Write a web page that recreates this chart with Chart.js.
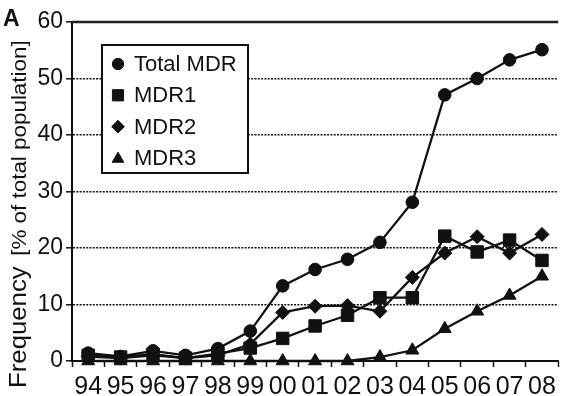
<!DOCTYPE html>
<html lang="en">
<head>
  <meta charset="UTF-8">
  <title>MDR frequency</title>
  <script src="https://cdn.jsdelivr.net/npm/chart.js"></script>
  <style>
    body, html {
      width: 568px;
      height: 396px;
      margin: 0;
      padding: 0;
      overflow: hidden;
      background: #fff;
    }
    #wrap {
      position: relative;
      width: 568px;
      height: 396px;
    }
  </style>
</head>
<body>
  <div id="wrap"><canvas id="mdrChart"></canvas></div>

  <script>
    // data
    const years = ['94', '95', '96', '97', '98', '99', '00', '01', '02', '03', '04', '05', '06', '07', '08'];
    const totalMdr = [1.4, 0.8, 1.8, 1.0, 2.2, 5.3, 13.3, 16.2, 18.0, 21.0, 28.1, 47.1, 50.0, 53.3, 55.1];
    const mdr1 = [1.0, 0.7, 1.2, 0.5, 1.3, 2.3, 4.0, 6.2, 8.1, 11.2, 11.2, 22.1, 19.3, 21.4, 17.8];
    const mdr2 = [0.8, 0.5, 1.0, 0.5, 1.0, 3.0, 8.6, 9.7, 9.8, 8.8, 14.8, 19.1, 22.0, 19.1, 22.4];
    const mdr3 = [0, 0, 0, 0, 0, 0, 0, 0, 0, 0.7, 1.9, 5.7, 8.8, 11.6, 15.0];
    const seriesNames = ['Total MDR', 'MDR1', 'MDR2', 'MDR3'];
    const yTicks = [0, 10, 20, 30, 40, 50, 60];
    const titleMain = 'Frequency';
    const titleUnit = '[% of total population]';
    const panelLabel = 'A';

    const ink = '#111';
    const sans = '"Liberation Sans", Arial, Helvetica, sans-serif';
    const narrow = '"Liberation Sans Narrow", "Arial Narrow", "Liberation Sans", Arial, sans-serif';

    const styles = [
      { pointStyle: 'circle', radius: 6.3 },
      { pointStyle: 'rect', radius: 8.8 },
      { pointStyle: 'rectRot', radius: 7 },
      { pointStyle: 'triangle', radius: 7.5 }
    ];

    function makeSet(i, data) {
      return {
        label: seriesNames[i],
        data: data,
        borderColor: ink,
        backgroundColor: ink,
        borderWidth: 2.3,
        tension: 0,
        pointStyle: styles[i].pointStyle,
        pointRadius: styles[i].radius,
        pointBorderWidth: 1,
        pointBackgroundColor: ink,
        pointBorderColor: ink,
        clip: false
      };
    }

    // panel letter and axis title with two font sizes, rotated
    const yTitlePlugin = {
      id: 'yTitle',
      afterDraw(chart) {
        const ctx = chart.ctx;
        ctx.save();
        ctx.fillStyle = ink;
        ctx.font = 'bold 23px ' + sans;
        ctx.textAlign = 'left';
        ctx.textBaseline = 'alphabetic';
        ctx.fillText(panelLabel, 3, 26);

        ctx.translate(26, 388);
        ctx.rotate(-Math.PI / 2);
        ctx.scale(1.12, 1);
        ctx.font = '23px ' + sans;
        ctx.fillText(titleMain, 0, 0);
        const w = ctx.measureText(titleMain + ' ').width + 3;
        ctx.font = '20px ' + sans;
        ctx.fillText(titleUnit, w, 0);
        ctx.restore();
      }
    };

    // top frame line + boxed legend inside the plot
    const framePlugin = {
      id: 'frame',
      afterDraw(chart) {
        const ctx = chart.ctx;
        const a = chart.chartArea;
        ctx.save();
        ctx.strokeStyle = '#222';
        ctx.lineWidth = 2.5;
        ctx.beginPath();
        ctx.moveTo(a.left, a.top);
        ctx.lineTo(a.right, a.top);
        ctx.stroke();

        const bx = 102, by = 45, bw = 146, bh = 128;
        ctx.fillStyle = '#fff';
        ctx.fillRect(bx, by, bw, bh);
        ctx.lineWidth = 2;
        ctx.strokeStyle = ink;
        ctx.strokeRect(bx, by, bw, bh);

        ctx.font = '22px ' + sans;
        ctx.textAlign = 'left';
        ctx.textBaseline = 'middle';
        seriesNames.forEach((name, i) => {
          const y = 64 + i * 31.3;
          ctx.fillStyle = ink;
          ctx.strokeStyle = ink;
          ctx.lineWidth = 1;
          Chart.helpers.drawPoint(ctx, {
            pointStyle: styles[i].pointStyle,
            radius: styles[i].radius * 0.9,
            rotation: 0,
            borderWidth: 1
          }, 118, y + (i === 3 ? 1 : 0));
          ctx.fillStyle = ink;
          ctx.fillText(name, 134, y + 1);
        });
        ctx.restore();
      }
    };

    const ctx = document.getElementById('mdrChart').getContext('2d');
    new Chart(ctx, {
      type: 'line',
      data: {
        labels: years,
        datasets: [
          makeSet(0, totalMdr),
          makeSet(1, mdr1),
          makeSet(2, mdr2),
          makeSet(3, mdr3)
        ]
      },
      options: {
        responsive: true,
        maintainAspectRatio: false,
        animation: false,
        layout: { padding: { top: 22, left: 0, right: 0, bottom: 0 } },
        plugins: {
          legend: { display: false },
          tooltip: { enabled: false }
        },
        scales: {
          x: {
            type: 'category',
            offset: true,
            afterFit: (s) => { s.height = 35; },
            grid: {
              offset: true,
              drawOnChartArea: false,
              drawTicks: true,
              tickLength: 6,
              tickColor: ink,
              tickWidth: 1.5
            },
            border: { display: true, color: ink, width: 2 },
            ticks: {
              color: ink,
              padding: 5,
              maxRotation: 0,
              autoSkip: false,
              font: { family: narrow, size: 25 }
            }
          },
          y: {
            min: 0,
            max: 60,
            afterFit: (s) => { s.width = 72; },
            afterBuildTicks: (s) => { s.ticks = yTicks.map(v => ({ value: v })); },
            grid: {
              color: (c) => (c.tick && (c.tick.value === 0 || c.tick.value === 60)) ? 'rgba(0,0,0,0)' : '#111',
              lineWidth: 1.6,
              drawTicks: true,
              tickLength: 6,
              tickColor: ink,
              tickWidth: 1.5
            },
            border: { display: true, color: ink, width: 2, dash: [2, 1.3] },
            ticks: {
              color: ink,
              padding: 3,
              font: { family: sans, size: 23 }
            }
          }
        }
      },
      plugins: [yTitlePlugin, framePlugin]
    });
  </script>
</body>
</html>
